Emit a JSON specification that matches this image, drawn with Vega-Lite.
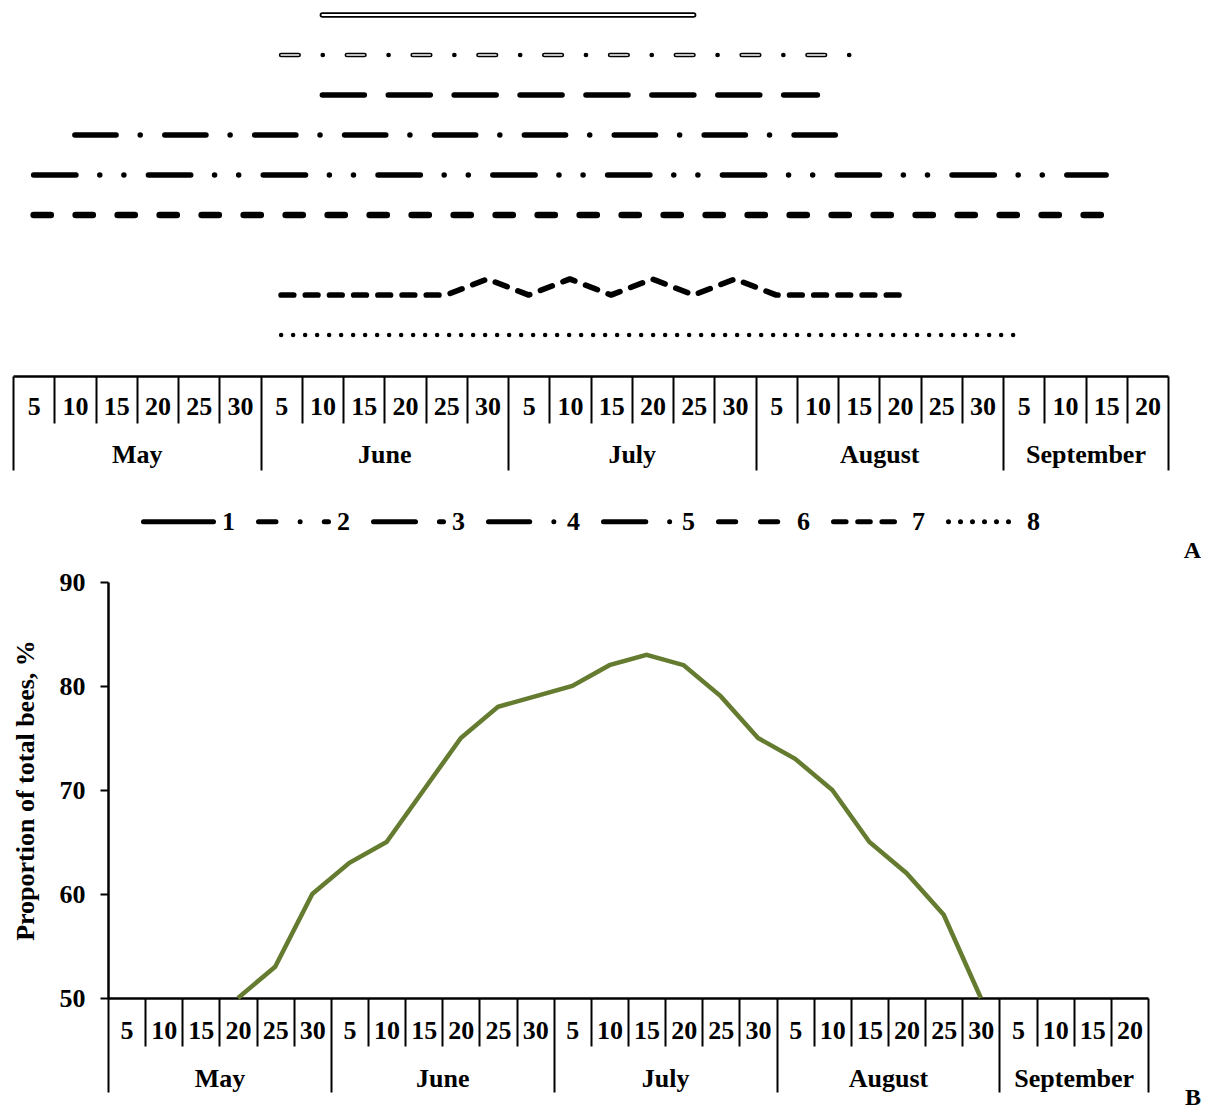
{
  "$schema": "https://vega.github.io/schema/vega-lite/v6.json",
  "padding": {"left": 12, "top": 0, "right": 0, "bottom": 0},
  "background": "white",
  "config": {
    "view": {"stroke": null},
    "font": "Liberation Serif",
    "legend": {"layout": {"bottom": {"anchor": "middle"}}}
  },
  "datasets": {
    "segs": [
      {"s": "1", "x": 37.5, "k": 1}, {"s": "1", "x": 82.5, "k": 1},
      {"s": "2", "x": 32.5, "k": 2}, {"s": "2", "x": 102.5, "k": 2},
      {"s": "3", "x": 37.5, "k": 3}, {"s": "3", "x": 97.5, "k": 3},
      {"s": "4", "x": 7.5, "k": 4}, {"s": "4", "x": 102.5, "k": 4},
      {"s": "5", "x": 2.5, "k": 5}, {"s": "5", "x": 132.5, "k": 5},
      {"s": "6", "x": 2.5, "k": 6}, {"s": "6", "x": 132.5, "k": 6},
      {"s": "7", "x": 32.5, "k": 8}, {"s": "7", "x": 52.5, "k": 8}, {"s": "7", "x": 57.5, "k": 7.6},
      {"s": "7", "x": 62.5, "k": 8}, {"s": "7", "x": 67.5, "k": 7.6}, {"s": "7", "x": 72.5, "k": 8},
      {"s": "7", "x": 77.5, "k": 7.6}, {"s": "7", "x": 82.5, "k": 8}, {"s": "7", "x": 87.5, "k": 7.6},
      {"s": "7", "x": 92.5, "k": 8}, {"s": "7", "x": 107.5, "k": 8},
      {"s": "8", "x": 32.5, "k": 9}, {"s": "8", "x": 122.5, "k": 9}
    ],
    "bees": [
      {"x": 17.5, "v": 50}, {"x": 22.5, "v": 53}, {"x": 27.5, "v": 60}, {"x": 32.5, "v": 63},
      {"x": 37.5, "v": 65}, {"x": 42.5, "v": 70}, {"x": 47.5, "v": 75}, {"x": 52.5, "v": 78},
      {"x": 57.5, "v": 79}, {"x": 62.5, "v": 80}, {"x": 67.5, "v": 82}, {"x": 72.5, "v": 83},
      {"x": 77.5, "v": 82}, {"x": 82.5, "v": 79}, {"x": 87.5, "v": 75}, {"x": 92.5, "v": 73},
      {"x": 97.5, "v": 70}, {"x": 102.5, "v": 65}, {"x": 107.5, "v": 62}, {"x": 112.5, "v": 58},
      {"x": 117.5, "v": 50}
    ]
  },
  "spacing": 6,
  "resolve": {"scale": {"strokeDash": "independent"}, "legend": {"strokeDash": "independent"}},
  "vconcat": [
    {
      "width": 1155,
      "height": 376,
      "title": {"text": "A", "orient": "bottom", "anchor": "end", "dx": 32, "offset": 4, "font": "Liberation Serif", "fontSize": 24, "fontWeight": "bold", "color": "black"},
      "data": {"name": "segs"},
      "layer": [
        {
          "transform": [{"filter": "datum.s === '1'"}],
          "mark": {"type": "line", "color": "black", "strokeWidth": 5.5, "strokeCap": "round"},
          "encoding": {
            "x": {"field": "x", "type": "quantitative", "scale": {"domain": [0, 140], "nice": false, "zero": false},
              "axis": {"orient": "bottom", "values": [0,5,10,15,20,25,30,35,40,45,50,55,60,65,70,75,80,85,90,95,100,105,110,115,120,125,130,135,140],
                "labels": false, "grid": false, "title": null, "domainColor": "black", "domainWidth": 2.5, "tickColor": "black", "tickWidth": 2,
                "tickSize": {"condition": {"test": "datum.value % 30 === 0 || datum.value >= 140", "value": 94}, "value": 47}}},
            "y": {"field": "k", "type": "quantitative", "scale": {"domain": [0.625, 10.025], "reverse": true, "nice": false, "zero": false}, "axis": null},
            "strokeDash": {"field": "s", "type": "nominal",
              "scale": {"domain": ["1","2","3","4","5","6","7","8"],
                "range": [[1,0],[17.5,24.15,0,24.15],[42,23.9],[41.2,24.15,0,24.55],[42.3,23.85,0,24.1,0,24.55],[17.2,24.8],[12.6,11.6],[0,12]]},
              "legend": {"title": null, "orient": "bottom", "direction": "horizontal", "symbolType": "stroke", "symbolSize": 4900,
                "symbolStrokeWidth": 5, "symbolStrokeColor": "black", "labelFont": "Liberation Serif", "labelFontSize": 26,
                "labelFontWeight": "bold", "labelColor": "black", "labelOffset": 6, "columnPadding": 13, "offset": 13,
                "encode": {"symbols": {"update": {"strokeCap": {"value": "round"}}}}}}
          }
        },
        {
          "transform": [{"filter": "datum.s === '1'"}],
          "mark": {"type": "line", "color": "white", "strokeWidth": 2, "strokeCap": "round"},
          "encoding": {
            "x": {"field": "x", "type": "quantitative", "axis": null},
            "y": {"field": "k", "type": "quantitative", "axis": null}
          }
        },
        {
          "transform": [{"filter": "datum.s === '2'"}],
          "mark": {"type": "line", "color": "black", "strokeWidth": 4.7, "strokeCap": "round", "strokeDash": [17.5, 24.15, 0, 24.15]},
          "encoding": {
            "x": {"field": "x", "type": "quantitative", "axis": null},
            "y": {"field": "k", "type": "quantitative", "axis": null}
          }
        },
        {
          "transform": [{"filter": "datum.s === '2'"}],
          "mark": {"type": "line", "color": "white", "strokeWidth": 1.6, "strokeCap": "round", "strokeDash": [17.5, 48.3]},
          "encoding": {
            "x": {"field": "x", "type": "quantitative", "axis": null},
            "y": {"field": "k", "type": "quantitative", "axis": null}
          }
        },
        {
          "transform": [{"filter": "datum.s === '3'"}],
          "mark": {"type": "line", "color": "black", "strokeWidth": 5.5, "strokeCap": "round", "strokeDash": [42, 23.9]},
          "encoding": {
            "x": {"field": "x", "type": "quantitative", "axis": null},
            "y": {"field": "k", "type": "quantitative", "axis": null}
          }
        },
        {
          "transform": [{"filter": "datum.s === '4'"}],
          "mark": {"type": "line", "color": "black", "strokeWidth": 5.5, "strokeCap": "round", "strokeDash": [41.2, 24.15, 0, 24.55]},
          "encoding": {
            "x": {"field": "x", "type": "quantitative", "axis": null},
            "y": {"field": "k", "type": "quantitative", "axis": null}
          }
        },
        {
          "transform": [{"filter": "datum.s === '5'"}],
          "mark": {"type": "line", "color": "black", "strokeWidth": 5.5, "strokeCap": "round", "strokeDash": [42.3, 23.85, 0, 24.1, 0, 24.55]},
          "encoding": {
            "x": {"field": "x", "type": "quantitative", "axis": null},
            "y": {"field": "k", "type": "quantitative", "axis": null}
          }
        },
        {
          "transform": [{"filter": "datum.s === '6'"}],
          "mark": {"type": "line", "color": "black", "strokeWidth": 6.5, "strokeCap": "round", "strokeDash": [17.2, 24.8]},
          "encoding": {
            "x": {"field": "x", "type": "quantitative", "axis": null},
            "y": {"field": "k", "type": "quantitative", "axis": null}
          }
        },
        {
          "transform": [{"filter": "datum.s === '7'"}],
          "mark": {"type": "line", "color": "black", "strokeWidth": 5.7, "strokeCap": "round", "strokeJoin": "round", "strokeDash": [12.6, 11.6]},
          "encoding": {
            "x": {"field": "x", "type": "quantitative", "axis": null},
            "y": {"field": "k", "type": "quantitative", "axis": null}
          }
        },
        {
          "transform": [{"filter": "datum.s === '8'"}],
          "mark": {"type": "line", "color": "black", "strokeWidth": 4.5, "strokeCap": "round", "strokeDash": [0, 12]},
          "encoding": {
            "x": {"field": "x", "type": "quantitative", "axis": null},
            "y": {"field": "k", "type": "quantitative", "axis": null}
          }
        },
        {
          "mark": {"type": "point", "opacity": 0},
          "encoding": {
            "x": {"field": "x", "type": "quantitative",
              "axis": {"orient": "bottom", "values": [2.5,7.5,12.5,17.5,22.5,27.5,32.5,37.5,42.5,47.5,52.5,57.5,62.5,67.5,72.5,77.5,82.5,87.5,92.5,97.5,102.5,107.5,112.5,117.5,122.5,127.5,132.5,137.5],
                "ticks": false, "tickSize": 0, "domain": false, "grid": false, "title": null,
                "labelExpr": "'' + (floor(datum.value/5)%6+1)*5",
                "labelFont": "Liberation Serif", "labelFontSize": 26, "labelFontWeight": "bold", "labelColor": "black",
                "labelPadding": 30, "labelBaseline": "middle", "labelOverlap": false, "labelFlush": false, "labelBound": false}},
            "y": {"field": "k", "type": "quantitative", "axis": null}
          }
        },
        {
          "mark": {"type": "point", "opacity": 0},
          "encoding": {
            "x": {"field": "x", "type": "quantitative",
              "axis": {"orient": "bottom", "values": [15, 45, 75, 105, 130],
                "ticks": false, "tickSize": 0, "domain": false, "grid": false, "title": null,
                "labelExpr": "datum.value < 30 ? 'May' : datum.value < 60 ? 'June' : datum.value < 90 ? 'July' : datum.value < 120 ? 'August' : 'September'",
                "labelFont": "Liberation Serif", "labelFontSize": 26, "labelFontWeight": "bold", "labelColor": "black",
                "labelPadding": 78, "labelBaseline": "middle", "labelOverlap": false, "labelFlush": false, "labelBound": false}},
            "y": {"field": "k", "type": "quantitative", "axis": null}
          }
        }
      ],
      "resolve": {"axis": {"x": "independent"}}
    },
    {
      "width": 1135,
      "height": 416,
      "title": {"text": "B", "orient": "bottom", "anchor": "end", "dx": 52, "offset": -7, "font": "Liberation Serif", "fontSize": 24, "fontWeight": "bold", "color": "black"},
      "data": {"name": "bees"},
      "layer": [
        {
          "mark": {"type": "line", "color": "#647B30", "strokeWidth": 4.5},
          "encoding": {
            "x": {"field": "x", "type": "quantitative", "scale": {"domain": [0, 140], "range": [95, 1135], "nice": false, "zero": false},
              "axis": {"orient": "bottom", "values": [0,5,10,15,20,25,30,35,40,45,50,55,60,65,70,75,80,85,90,95,100,105,110,115,120,125,130,135,140],
                "labels": false, "grid": false, "title": null, "domainColor": "black", "domainWidth": 2.5, "tickColor": "black", "tickWidth": 2,
                "tickSize": {"condition": {"test": "datum.value % 30 === 0 || datum.value >= 140", "value": 94}, "value": 48}}},
            "y": {"field": "v", "type": "quantitative", "scale": {"domain": [50, 90], "nice": false, "zero": false},
              "axis": {"values": [50, 60, 70, 80, 90], "grid": false, "offset": -95, "title": "Proportion of total bees, %",
                "titleFont": "Liberation Serif", "titleFontSize": 26, "titleFontWeight": "bold", "titleColor": "black", "titlePadding": 21,
                "labelFont": "Liberation Serif", "labelFontSize": 26, "labelFontWeight": "bold", "labelColor": "black", "labelPadding": 15,
                "tickSize": 8, "tickWidth": 2, "tickColor": "black", "domainColor": "black", "domainWidth": 2.5}}
          }
        },
        {
          "mark": {"type": "point", "opacity": 0},
          "encoding": {
            "x": {"field": "x", "type": "quantitative",
              "axis": {"orient": "bottom", "values": [2.5,7.5,12.5,17.5,22.5,27.5,32.5,37.5,42.5,47.5,52.5,57.5,62.5,67.5,72.5,77.5,82.5,87.5,92.5,97.5,102.5,107.5,112.5,117.5,122.5,127.5,132.5,137.5],
                "ticks": false, "tickSize": 0, "domain": false, "grid": false, "title": null,
                "labelExpr": "'' + (floor(datum.value/5)%6+1)*5",
                "labelFont": "Liberation Serif", "labelFontSize": 26, "labelFontWeight": "bold", "labelColor": "black",
                "labelPadding": 32, "labelBaseline": "middle", "labelOverlap": false, "labelFlush": false, "labelBound": false}},
            "y": {"field": "v", "type": "quantitative",
              "axis": {"values": [50, 60, 70, 80, 90], "grid": false, "offset": -95, "title": "Proportion of total bees, %",
                "titleFont": "Liberation Serif", "titleFontSize": 26, "titleFontWeight": "bold", "titleColor": "black", "titlePadding": 21,
                "labelFont": "Liberation Serif", "labelFontSize": 26, "labelFontWeight": "bold", "labelColor": "black", "labelPadding": 15,
                "tickSize": 8, "tickWidth": 2, "tickColor": "black", "domainColor": "black", "domainWidth": 2.5}}
          }
        },
        {
          "mark": {"type": "point", "opacity": 0},
          "encoding": {
            "x": {"field": "x", "type": "quantitative",
              "axis": {"orient": "bottom", "values": [15, 45, 75, 105, 130],
                "ticks": false, "tickSize": 0, "domain": false, "grid": false, "title": null,
                "labelExpr": "datum.value < 30 ? 'May' : datum.value < 60 ? 'June' : datum.value < 90 ? 'July' : datum.value < 120 ? 'August' : 'September'",
                "labelFont": "Liberation Serif", "labelFontSize": 26, "labelFontWeight": "bold", "labelColor": "black",
                "labelPadding": 80, "labelBaseline": "middle", "labelOverlap": false, "labelFlush": false, "labelBound": false}},
            "y": {"field": "v", "type": "quantitative",
              "axis": {"values": [50, 60, 70, 80, 90], "grid": false, "offset": -95, "title": "Proportion of total bees, %",
                "titleFont": "Liberation Serif", "titleFontSize": 26, "titleFontWeight": "bold", "titleColor": "black", "titlePadding": 21,
                "labelFont": "Liberation Serif", "labelFontSize": 26, "labelFontWeight": "bold", "labelColor": "black", "labelPadding": 15,
                "tickSize": 8, "tickWidth": 2, "tickColor": "black", "domainColor": "black", "domainWidth": 2.5}}
          }
        }
      ],
      "resolve": {"axis": {"x": "independent"}}
    }
  ]
}
